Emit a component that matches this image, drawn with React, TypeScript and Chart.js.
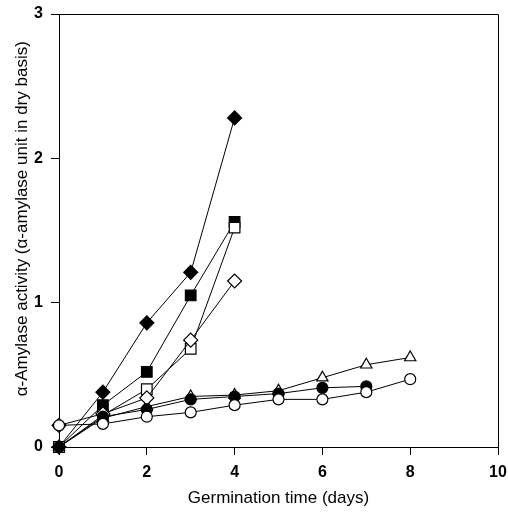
import React, { useEffect, useRef } from "react";
import { Chart, registerables } from "chart.js";

Chart.register(...registerables);

const days = [0, 1, 2, 3, 4, 5, 6, 7, 8];

const filledDiamond = [0, 0.38, 0.86, 1.21, 2.28];
const filledSquare = [0, 0.29, 0.52, 1.05, 1.56];
const openSquare = [0, 0.22, 0.4, 0.68, 1.52];
const openDiamond = [0.15, 0.23, 0.34, 0.74, 1.15];
const filledCircle = [0, 0.21, 0.26, 0.33, 0.35, 0.37, 0.41, 0.42];
const openTriangle = [0, 0.2, 0.28, 0.35, 0.36, 0.39, 0.48, 0.57, 0.62];
const openCircle = [0.15, 0.16, 0.21, 0.24, 0.29, 0.33, 0.33, 0.38, 0.47];

const xTicks = [0, 2, 4, 6, 8, 10];
const yTicks = [0, 1, 2, 3];

const toPts = (vals: number[]) => vals.map((v, i) => ({ x: days[i], y: v }));

const framePlugin = {
  id: "frame",
  afterDraw(chart: any) {
    const { ctx, chartArea } = chart;
    ctx.save();
    ctx.strokeStyle = "#000";
    ctx.lineWidth = 1;
    ctx.beginPath();
    ctx.moveTo(chartArea.left, chartArea.top + 0.5);
    ctx.lineTo(chartArea.right + 0.5, chartArea.top + 0.5);
    ctx.lineTo(chartArea.right + 0.5, chartArea.bottom);
    ctx.stroke();
    ctx.restore();
  },
};

const FONT = "Arial, 'Liberation Sans', sans-serif";

export default function App() {
  const ref = useRef<HTMLCanvasElement | null>(null);
  useEffect(() => {
    if (!ref.current) return;
    const mk = (label: string, data: number[], style: string, fill: boolean, r: number) => ({
      label,
      data: toPts(data),
      borderColor: "#000",
      backgroundColor: fill ? "#000" : "#fff",
      pointBackgroundColor: fill ? "#000" : "#fff",
      pointBorderColor: "#000",
      pointBorderWidth: 1.2,
      borderWidth: 1,
      pointStyle: style,
      pointRadius: r,
      tension: 0,
      clip: false as any,
    });
    const chart = new Chart(ref.current, {
      type: "line",
      data: {
        datasets: [
          mk("open circle", openCircle, "circle", false, 5.5),
          mk("filled circle", filledCircle, "circle", true, 5.5),
          mk("open diamond", openDiamond, "rectRot", false, 7),
          mk("open square", openSquare, "rect", false, 7.5),
          mk("filled square", filledSquare, "rect", true, 7.5),
          mk("open triangle", openTriangle, "triangle", false, 6.5),
          mk("filled diamond", filledDiamond, "rectRot", true, 7),
        ],
      },
      options: {
        animation: false,
        responsive: false,
        layout: { padding: { left: 0, right: 10, top: 14, bottom: 0 } },
        plugins: { legend: { display: false }, tooltip: { enabled: false } },
        scales: {
          x: {
            type: "linear",
            min: 0,
            max: 10,
            afterBuildTicks: (s: any) => {
              s.ticks = xTicks.map((v) => ({ value: v }));
            },
            afterFit: (s: any) => {
              s.height = 68;
              s.paddingLeft = 0;
              s.paddingRight = 0;
            },
            grid: { drawOnChartArea: false, drawTicks: true, tickLength: 8, color: "#000" },
            border: { display: true, color: "#000", width: 1 },
            ticks: {
              color: "#000",
              padding: 8,
              maxRotation: 0,
              font: { family: FONT, size: 16, weight: "bold" },
            },
            title: {
              display: true,
              text: "Germination time (days)",
              color: "#000",
              padding: { top: 0, bottom: 6 },
              font: { family: FONT, size: 17 },
            },
          },
          y: {
            type: "linear",
            min: 0,
            max: 3,
            afterBuildTicks: (s: any) => {
              s.ticks = yTicks.map((v) => ({ value: v }));
            },
            afterFit: (s: any) => {
              s.width = 59;
              s.paddingTop = 0;
              s.paddingBottom = 0;
            },
            grid: { drawOnChartArea: false, drawTicks: true, tickLength: 8, color: "#000" },
            border: { display: true, color: "#000", width: 1 },
            ticks: {
              color: "#000",
              padding: 8,
              font: { family: FONT, size: 16, weight: "bold" },
            },
            title: {
              display: true,
              text: "     α-Amylase activity (α-amylase unit in dry basis)",
              color: "#000",
              padding: { top: 12, bottom: 0 },
              font: { family: FONT, size: 17 },
            },
          },
        },
      },
      plugins: [framePlugin],
    });
    return () => chart.destroy();
  }, []);
  return (
    <canvas
      ref={ref}
      width={508}
      height={515}
      style={{ position: "fixed", left: 0, top: 0, width: 508, height: 515, background: "#fff" }}
    />
  );
}
